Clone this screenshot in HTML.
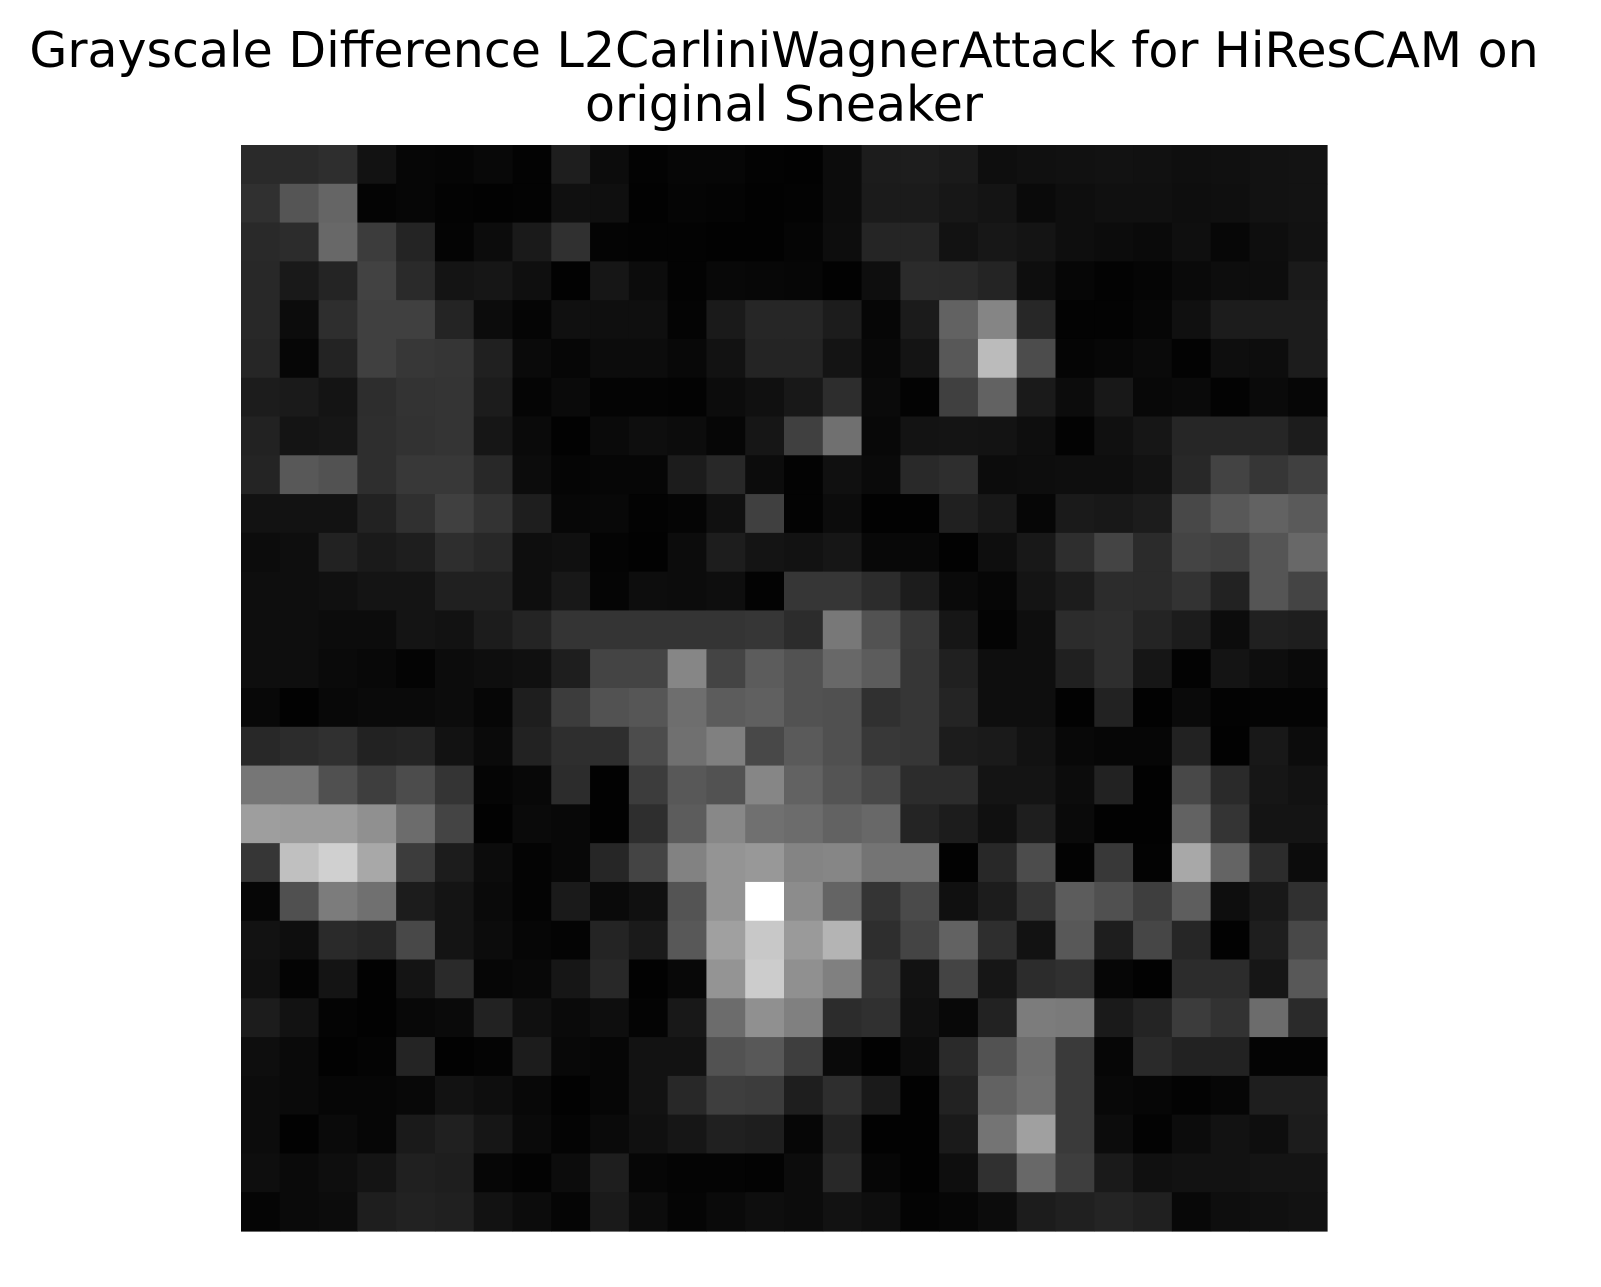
<!DOCTYPE html>
<html><head><meta charset="utf-8"><style>
html,body{margin:0;padding:0;background:#fff;}
svg{display:block;}
</style></head><body>
<svg id="fig" width="1601" height="1287" xmlns="http://www.w3.org/2000/svg">
<rect width="1601" height="1287" fill="#fff"/>
<text x="784" y="67" text-anchor="middle" font-family="DejaVu Sans, sans-serif" font-size="49" fill="#000">Grayscale Difference L2CarliniWagnerAttack for HiResCAM on</text>
<text x="784" y="121" text-anchor="middle" font-family="DejaVu Sans, sans-serif" font-size="49" fill="#000">original Sneaker</text>
<g id="heat"></g>
</svg>
<script>
const rowLabels = Array.from({length:28},(_,i)=>i);
const colLabels = Array.from({length:28},(_,i)=>i);
const r00=[0x2a,0x2a,0x2e,0x12,0x06,0x05,0x08,0x03,0x1e,0x0c,0x03,0x06,0x06,0x03,0x02,0x0c,0x1c,0x1d,0x1a,0x0e,0x10,0x11,0x12,0x11,0x0f,0x10,0x12,0x13];
const r01=[0x30,0x55,0x65,0x04,0x06,0x03,0x02,0x03,0x10,0x0f,0x02,0x05,0x04,0x02,0x03,0x0c,0x1b,0x1b,0x17,0x14,0x0a,0x0e,0x10,0x10,0x0e,0x0f,0x12,0x13];
const r02=[0x29,0x2c,0x68,0x3c,0x24,0x04,0x0c,0x1a,0x30,0x04,0x03,0x03,0x02,0x02,0x05,0x0d,0x25,0x25,0x12,0x17,0x14,0x0e,0x0c,0x0a,0x0f,0x07,0x0e,0x12];
const r03=[0x28,0x19,0x24,0x42,0x2a,0x14,0x16,0x0f,0x02,0x16,0x0c,0x03,0x08,0x07,0x06,0x02,0x0e,0x2b,0x2a,0x24,0x0e,0x06,0x03,0x05,0x0a,0x0d,0x0d,0x1a];
const r04=[0x28,0x0c,0x2e,0x40,0x40,0x24,0x0c,0x05,0x10,0x0f,0x0f,0x04,0x1a,0x26,0x26,0x1c,0x06,0x1b,0x62,0x85,0x27,0x03,0x03,0x06,0x10,0x1c,0x1c,0x1c];
const r05=[0x26,0x06,0x23,0x40,0x37,0x35,0x20,0x0a,0x06,0x0c,0x0c,0x08,0x12,0x24,0x24,0x14,0x08,0x14,0x58,0xbb,0x4c,0x05,0x07,0x0a,0x03,0x0e,0x0d,0x1c];
const r06=[0x1c,0x1a,0x14,0x2d,0x33,0x34,0x1c,0x05,0x0a,0x04,0x04,0x03,0x0c,0x10,0x18,0x2d,0x0a,0x03,0x40,0x62,0x1a,0x0c,0x18,0x08,0x0a,0x03,0x0a,0x06];
const r07=[0x22,0x14,0x16,0x2e,0x32,0x34,0x16,0x0a,0x02,0x0a,0x0e,0x0c,0x06,0x16,0x40,0x70,0x08,0x13,0x14,0x13,0x0e,0x03,0x10,0x16,0x26,0x26,0x26,0x1c];
const r08=[0x24,0x58,0x52,0x2e,0x38,0x38,0x28,0x0c,0x05,0x06,0x06,0x1c,0x28,0x0c,0x03,0x10,0x0a,0x29,0x2e,0x0c,0x0d,0x0e,0x0e,0x12,0x28,0x43,0x36,0x40];
const r09=[0x12,0x12,0x12,0x22,0x30,0x40,0x33,0x1e,0x07,0x08,0x03,0x05,0x10,0x40,0x03,0x0c,0x02,0x02,0x20,0x18,0x06,0x1a,0x18,0x1c,0x48,0x58,0x62,0x5a];
const r10=[0x0c,0x0e,0x22,0x1a,0x1e,0x2e,0x28,0x0e,0x10,0x04,0x02,0x0c,0x1d,0x14,0x12,0x16,0x08,0x08,0x02,0x0e,0x18,0x2e,0x44,0x2b,0x44,0x40,0x55,0x68];
const r11=[0x0e,0x0e,0x10,0x14,0x14,0x20,0x20,0x0e,0x18,0x05,0x0d,0x0c,0x0e,0x03,0x36,0x36,0x2c,0x1c,0x0a,0x06,0x14,0x1c,0x2c,0x2b,0x33,0x22,0x55,0x44];
const r12=[0x0e,0x0e,0x0c,0x0c,0x14,0x12,0x1c,0x24,0x34,0x34,0x34,0x34,0x34,0x36,0x2c,0x78,0x52,0x38,0x16,0x04,0x0e,0x2c,0x2e,0x24,0x1c,0x0c,0x20,0x1e];
const r13=[0x0e,0x0e,0x0a,0x08,0x04,0x0c,0x0e,0x10,0x1e,0x44,0x44,0x86,0x44,0x5c,0x52,0x68,0x5c,0x36,0x20,0x0e,0x0e,0x20,0x2e,0x16,0x03,0x14,0x0e,0x0a];
const r14=[0x08,0x02,0x08,0x0a,0x0a,0x0c,0x06,0x1e,0x3c,0x52,0x56,0x6e,0x5c,0x60,0x52,0x50,0x30,0x36,0x24,0x0e,0x0e,0x02,0x22,0x02,0x0a,0x03,0x04,0x04];
const r15=[0x28,0x2c,0x30,0x22,0x24,0x12,0x0a,0x22,0x2e,0x2e,0x4c,0x70,0x80,0x48,0x5a,0x50,0x38,0x36,0x1c,0x1a,0x12,0x08,0x06,0x06,0x22,0x02,0x18,0x0c];
const r16=[0x76,0x76,0x50,0x3e,0x4c,0x34,0x05,0x08,0x2c,0x02,0x3c,0x58,0x52,0x86,0x62,0x54,0x48,0x2c,0x2c,0x14,0x14,0x0c,0x22,0x02,0x48,0x2a,0x16,0x12];
const r17=[0x9e,0x9c,0x9c,0x90,0x6c,0x44,0x02,0x0a,0x08,0x02,0x2e,0x5c,0x88,0x70,0x6c,0x62,0x68,0x24,0x1c,0x10,0x1e,0x0a,0x02,0x02,0x62,0x34,0x14,0x14];
const r18=[0x36,0xc0,0xd0,0xa8,0x3c,0x1c,0x0c,0x04,0x08,0x26,0x44,0x82,0x94,0x98,0x84,0x86,0x74,0x74,0x02,0x28,0x4c,0x03,0x38,0x03,0xa8,0x64,0x2c,0x0c];
const r19=[0x06,0x50,0x7c,0x70,0x1c,0x14,0x0a,0x04,0x1a,0x0a,0x10,0x54,0x94,0xff,0x8c,0x64,0x34,0x4a,0x10,0x1c,0x34,0x5c,0x50,0x3e,0x5e,0x0e,0x18,0x30];
const r20=[0x12,0x0e,0x2a,0x26,0x48,0x14,0x0c,0x06,0x04,0x24,0x1a,0x58,0xa0,0xc8,0x9a,0xb4,0x2e,0x44,0x62,0x2e,0x12,0x58,0x1e,0x46,0x26,0x02,0x1e,0x48];
const r21=[0x10,0x04,0x14,0x02,0x14,0x2a,0x06,0x08,0x16,0x28,0x02,0x08,0x94,0xcc,0x90,0x80,0x36,0x12,0x44,0x16,0x2c,0x30,0x06,0x02,0x2c,0x2c,0x16,0x58];
const r22=[0x1c,0x12,0x04,0x02,0x08,0x0a,0x22,0x10,0x0a,0x0e,0x04,0x18,0x6c,0x90,0x80,0x2c,0x30,0x10,0x08,0x22,0x7c,0x7a,0x1a,0x24,0x3c,0x32,0x6c,0x2a];
const r23=[0x0e,0x0a,0x02,0x04,0x24,0x02,0x04,0x1c,0x08,0x06,0x12,0x12,0x52,0x58,0x3e,0x0a,0x02,0x0c,0x2a,0x52,0x6e,0x3a,0x06,0x2a,0x22,0x22,0x04,0x04];
const r24=[0x0c,0x0a,0x06,0x06,0x08,0x12,0x0e,0x08,0x02,0x06,0x12,0x28,0x3e,0x3c,0x1e,0x2e,0x1a,0x02,0x22,0x62,0x70,0x3a,0x08,0x06,0x03,0x06,0x1e,0x1e];
const r25=[0x0c,0x02,0x0a,0x06,0x1a,0x20,0x16,0x0a,0x04,0x0a,0x10,0x16,0x20,0x1e,0x06,0x22,0x02,0x02,0x1a,0x74,0xa0,0x3a,0x0c,0x03,0x0c,0x12,0x0e,0x1c];
const r26=[0x0e,0x0a,0x0e,0x14,0x20,0x1e,0x06,0x03,0x0c,0x1e,0x06,0x04,0x04,0x03,0x0c,0x28,0x06,0x02,0x0e,0x30,0x68,0x3e,0x1a,0x10,0x12,0x12,0x14,0x14];
const r27=[0x05,0x0a,0x0c,0x1e,0x22,0x20,0x12,0x0c,0x05,0x1a,0x0c,0x05,0x0a,0x0e,0x0c,0x12,0x0e,0x04,0x06,0x0c,0x1c,0x20,0x24,0x20,0x08,0x0e,0x10,0x12];
const values=[r00,r01,r02,r03,r04,r05,r06,r07,r08,r09,r10,r11,r12,r13,r14,r15,r16,r17,r18,r19,r20,r21,r22,r23,r24,r25,r26,r27];

const X0=241, Y0=145, W=1086, H=1086;
const nC=colLabels.length, nR=rowLabels.length;
const cw=W/nC, ch=H/nR;
function xScale(j){return X0+j*cw;}
function yScale(i){return Y0+i*ch;}
function color(v){const c=Math.max(0,Math.min(255,Math.round(v)));return `rgb(${c},${c},${c})`;}
const g=document.getElementById('heat');
const NS='http://www.w3.org/2000/svg';
values.forEach((row,i)=>{
  row.forEach((v,j)=>{
    const r=document.createElementNS(NS,'rect');
    r.setAttribute('x',xScale(j));
    r.setAttribute('y',yScale(i));
    r.setAttribute('width',cw+0.6);
    r.setAttribute('height',ch+0.6);
    r.setAttribute('fill',color(v));
    
    
    g.appendChild(r);
  });
});
</script>
</body></html>
